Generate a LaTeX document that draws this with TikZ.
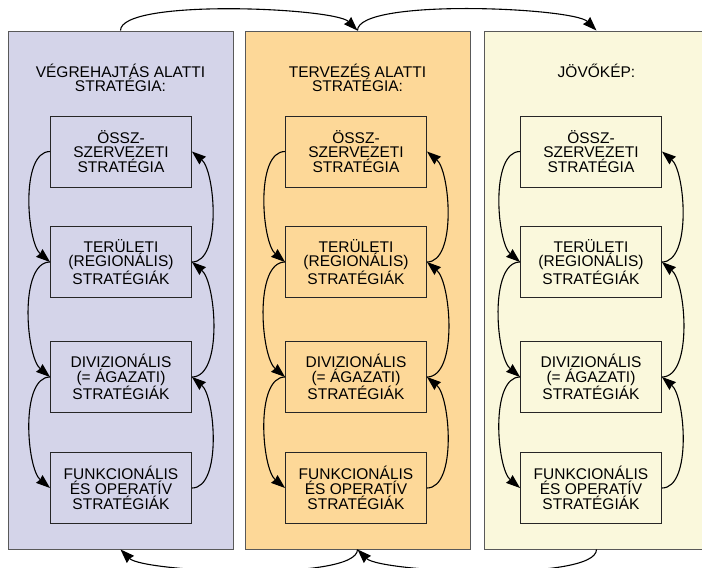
\documentclass[tikz,border=0pt]{standalone}
\usepackage{fontspec}
\setmainfont{Liberation Sans}
\usetikzlibrary{arrows.meta}
\definecolor{panelA}{HTML}{D4D4E9}
\definecolor{panelB}{HTML}{FDD898}
\definecolor{panelC}{HTML}{FAF8DC}
\begin{document}
\begin{tikzpicture}[x=1pt,y=1pt,
  panel/.style={draw=black!65, line width=0.9pt, minimum width=225pt, minimum height=518pt, inner sep=0pt},
  level/.style={draw=black!85, line width=0.9pt, minimum width=141pt, minimum height=71pt, inner sep=0pt,
    align=center, font=\fontsize{15.5}{14.8}\selectfont},
  heading/.style={anchor=north, align=center, font=\fontsize{15.5}{14.8}\selectfont, inner sep=0pt},
  link/.style={-{Stealth[length=14pt,width=10pt,inset=1pt]}, line width=1.1pt},
  down/.style={link, out=180, in=140, looseness=0.7},
  up/.style={link, out=0, in=-40, looseness=0.7},
]
% y grows upwards; the picture spans 0..-568
\useasboundingbox (0,0) rectangle (702,-568);
\begin{scope}
\clip (0,0) rectangle (702,-568);

% three columns
\node[panel, fill=panelA] (pA) at (120.5,-290) {};
\node[panel, fill=panelB] (pB) at (357.5,-290) {};
\node[panel, fill=panelC] (pC) at (596.5,-290) {};

% column headings
\node[heading] (hA) at (120.5,-63.5) {VÉGREHAJTÁS ALATTI\\STRATÉGIA:};
\node[heading] (hB) at (357.5,-63.5) {TERVEZÉS ALATTI\\STRATÉGIA:};
\node[heading] (hC) at (596.5,-63.5) {JÖVŐKÉP:};

% strategy levels in every column
\foreach \c/\x/\f in {A/121/panelA, B/356/panelB, C/591/panelC}{
  \node[level, fill=\f] (\c1) at (\x,-151.5) {ÖSSZ-\\SZERVEZETI\\STRATÉGIA};
  \node[level, fill=\f] (\c2) at (\x,-262) {TERÜLETI\\(REGIONÁLIS)\\STRATÉGIÁK};
  \node[level, fill=\f] (\c3) at (\x,-377) {DIVIZIONÁLIS\\(= ÁGAZATI)\\STRATÉGIÁK};
  \node[level, fill=\f] (\c4) at (\x,-488) {FUNKCIONÁLIS\\ÉS OPERATÍV\\STRATÉGIÁK};
  % top-down on the left, bottom-up on the right
  \draw[down] (\c1.west) to (\c2.west);
  \draw[down] (\c2.west) to (\c3.west);
  \draw[down] (\c3.west) to (\c4.west);
  \draw[up] (\c4.east) to (\c3.east);
  \draw[up] (\c3.east) to (\c2.east);
  \draw[up] (\c2.east) to (\c1.east);
}

% links between the columns
\draw[link] (pA.north) to[out=90,in=135,looseness=0.35] (pB.north);
\draw[link] (pB.north) to[out=90,in=135,looseness=0.35] (pC.north);
\draw[link] (pC.south) to[out=-90,in=-45,looseness=0.35] (pB.south);
\draw[link] (pB.south) to[out=-90,in=-45,looseness=0.35] (pA.south);
\end{scope}
\end{tikzpicture}
\end{document}
